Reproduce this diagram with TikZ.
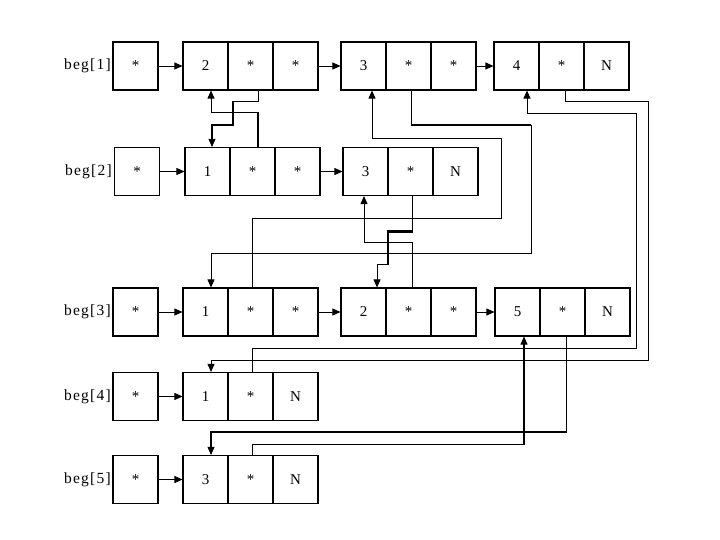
\documentclass[tikz,border=0pt]{standalone}
\usepackage{fontspec}
\setmainfont{Liberation Serif}
\newfontfamily\labfont[LetterSpace=8]{Liberation Serif}
\usetikzlibrary{arrows.meta,calc}
\begin{document}
\begin{tikzpicture}[x=1pt,y=-1pt,
  cell/.style={draw, line width=1.1pt, minimum width=45pt, minimum height=48pt, inner sep=0pt, font=\fontsize{15}{17}\selectfont},
  lbl/.style={anchor=east, inner sep=0pt, font=\labfont\fontsize{15.5}{17}\selectfont},
  conn/.style={line width=0.8pt, -{Triangle[length=8pt,width=7pt]}},
  thickc/.style={line width=1.7pt}]
\useasboundingbox (0,0) rectangle (720,540);
% row 1
\node[lbl] (l1) at (111,66) {beg[1]};
\node[cell] (r1h) at (135.5,66) {*};
\node[cell] (r1a1) at (205.5,66) {2};
\node[cell] (r1a2) at (250.5,66) {*};
\node[cell] (r1a3) at (295.5,66) {*};
\node[cell] (r1b1) at (363.5,66) {3};
\node[cell] (r1b2) at (408.5,66) {*};
\node[cell] (r1b3) at (453.5,66) {*};
\node[cell] (r1c1) at (516.5,66) {4};
\node[cell] (r1c2) at (561.5,66) {*};
\node[cell] (r1c3) at (606.5,66) {N};
% row 2
\node[lbl] (l2) at (112,171.5) {beg[2]};
\node[cell] (r2h) at (137,171.5) {*};
\node[cell] (r2a1) at (207.5,171.5) {1};
\node[cell] (r2a2) at (252.5,171.5) {*};
\node[cell] (r2a3) at (297.5,171.5) {*};
\node[cell] (r2b1) at (365.5,171.5) {3};
\node[cell] (r2b2) at (410.5,171.5) {*};
\node[cell] (r2b3) at (455.5,171.5) {N};
% row 3
\node[lbl] (l3) at (111,312) {beg[3]};
\node[cell] (r3h) at (135.5,312) {*};
\node[cell] (r3a1) at (205.5,312) {1};
\node[cell] (r3a2) at (250.5,312) {*};
\node[cell] (r3a3) at (295.5,312) {*};
\node[cell] (r3b1) at (363.5,312) {2};
\node[cell] (r3b2) at (408.5,312) {*};
\node[cell] (r3b3) at (453.5,312) {*};
\node[cell] (r3c1) at (517.5,312) {5};
\node[cell] (r3c2) at (562.5,312) {*};
\node[cell] (r3c3) at (607.5,312) {N};
% row 4
\node[lbl] (l4) at (111,396.5) {beg[4]};
\node[cell] (r4h) at (135.5,396.5) {*};
\node[cell] (r4a1) at (205.5,396.5) {1};
\node[cell] (r4a2) at (250.5,396.5) {*};
\node[cell] (r4a3) at (295.5,396.5) {N};
% row 5
\node[lbl] (l5) at (111,479.5) {beg[5]};
\node[cell] (r5h) at (135.5,479.5) {*};
\node[cell] (r5a1) at (205.5,479.5) {3};
\node[cell] (r5a2) at (250.5,479.5) {*};
\node[cell] (r5a3) at (295.5,479.5) {N};
% horizontal links
\draw[conn] (r1h) -- (r1a1);
\draw[conn] (r1a3) -- (r1b1);
\draw[conn] (r1b3) -- (r1c1);
\draw[conn] (r2h) -- (r2a1);
\draw[conn] (r2a3) -- (r2b1);
\draw[conn] (r3h) -- (r3a1);
\draw[conn] (r3a3) -- (r3b1);
\draw[conn] (r3b3) -- (r3c1);
\draw[conn] (r4h) -- (r4a1);
\draw[conn] (r5h) -- (r5a1);
% vertical links
\draw[conn] ([xshift=8pt]r1a2.south) -- ++(0,11) -| (233,125) -| ([xshift=4.5pt]r2a1.north);
\draw[conn] ([xshift=5.5pt]r2a2.north) -- ++(0,-35) -| ([xshift=5.5pt]r1a1.south);
\draw[conn] ([xshift=2.5pt]r1b2.south) -- ++(0,35) -| (531,253) -| ([xshift=5.5pt]r3a1.north);
\draw[conn] ([xshift=1.5pt]r3a2.north) -- ++(0,-69) -| (501,138) -| ([xshift=8.5pt]r1b1.south);
\draw[conn] ([xshift=4pt]r1c2.south) -- ++(0,11) -| (648,360) -| ([xshift=5.5pt]r4a1.north);
\draw[conn] ([xshift=1.5pt]r4a2.north) -- ++(0,-24) -| (636,113) -| ([xshift=10.5pt]r1c1.south);
\draw[conn] ([xshift=1.5pt]r2b2.south) -- ++(0,36) -| (388,264) -| ([xshift=13.5pt]r3b1.north);
\draw[conn] ([xshift=3.5pt]r3b2.north) -- ++(0,-45) -| ([xshift=-1.5pt]r2b1.south);
\draw[conn] ([xshift=3.5pt]r3c2.south) -- ++(0,96) -| ([xshift=5.5pt]r5a1.north);
\draw[conn] ([xshift=1.5pt]r5a2.north) -- ++(0,-11) -| ([xshift=6.5pt]r3c1.south);
% heavier segments
\draw[thickc] (233,101) -- (233,125) -- (212,125) -- (212,141);
\draw[thickc] (258,148) -- (258,113);
\draw[thickc] (411,125) -- (531,125);
\draw[thickc] (412,231) -- (388,231) -- (388,264);
\draw[thickc] (566,432) -- (211,432) -- (211,448);
\draw[thickc] (524,445) -- (524,343);
\end{tikzpicture}
\end{document}
